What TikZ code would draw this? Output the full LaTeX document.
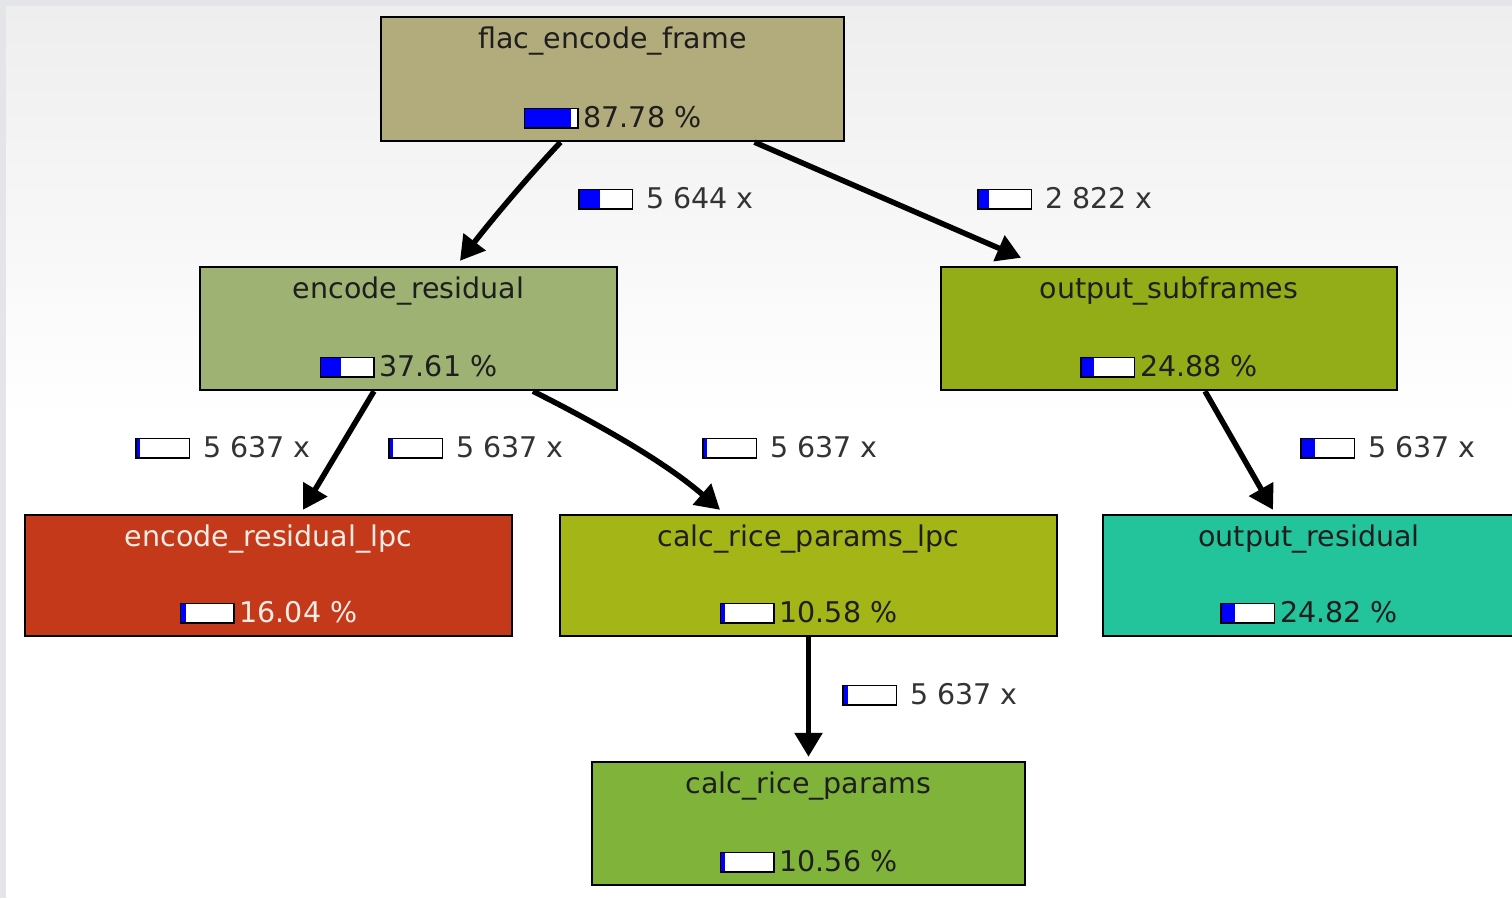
\documentclass[tikz,border=0pt]{standalone}
\usepackage{fontspec}
\setmainfont{DejaVu Sans}
\usetikzlibrary{arrows.meta,calc}
\definecolor{bgframe}{HTML}{E3E5E9}
\definecolor{bgtop}{HTML}{EEEEEE}
\definecolor{cflac}{HTML}{B2AB7C}
\definecolor{cer}{HTML}{9DB273}
\definecolor{cos}{HTML}{93AD19}
\definecolor{cerl}{HTML}{C4391A}
\definecolor{ccrpl}{HTML}{A3B517}
\definecolor{cor}{HTML}{23C49B}
\definecolor{ccrp}{HTML}{80B33A}
\definecolor{tdark}{HTML}{1E1E1E}
\definecolor{tlight}{HTML}{F6ECE6}
\definecolor{tlabel}{HTML}{333333}
\newcommand\pbar[1]{{\setlength\fboxsep{0pt}\setlength\fboxrule{1.5pt}\fcolorbox{black}{white}{\makebox[52pt][l]{\color{blue}\rule{#1pt}{18pt}}}}}
\tikzset{
  fbox/.style={rectangle, draw=black, line width=2.4pt, inner sep=0pt},
  ftext/.style={inner sep=0pt, font=\fontsize{28.5}{32}\selectfont},
  elabel/.style={inner sep=0pt, anchor=base west, text=tlabel, font=\fontsize{28.5}{32}\selectfont},
  edge/.style={draw=black, line width=5.5pt, -{Triangle[length=24pt,width=27pt]}},
}
\newcommand\fnode[8]{%
  \node[fbox, fill=#5, minimum width=#3pt, minimum height=#4pt] (#1) at (#2) {};
  \node[ftext, anchor=base, text=#6] (#1-t) at ($(#1.north)+(0,33)$) {#7};
  \node[ftext, anchor=base, text=#6] (#1-p) at ($(#1.south)+(0,-15)$) {#8};
}
\begin{document}
\begin{tikzpicture}[x=1pt,y=-1pt]
\useasboundingbox (0,0) rectangle (1512,898);
\clip (0,0) rectangle (1512,898);
% background
\fill[bgframe] (0,0) rectangle (1512,898);
\shade[top color=bgtop, bottom color=white] (6,6) rectangle (1512,420);
\fill[white] (6,420) rectangle (1512,898);
% nodes
\fnode{flac}{612.5,79}{463}{124}{cflac}{tdark}{flac\_encode\_frame}{\pbar{46}\hspace{5pt}87.78 \%}
\fnode{er}{408.5,328.5}{417}{123}{cer}{tdark}{encode\_residual}{\pbar{20}\hspace{5pt}37.61 \%}
\fnode{os}{1169,328.5}{456}{123}{cos}{tdark}{output\_subframes}{\pbar{12}\hspace{5pt}24.88 \%}
\fnode{erl}{268.5,575.5}{487}{121}{cerl}{tlight}{encode\_residual\_lpc}{\pbar{5}\hspace{5pt}16.04 \%}
\fnode{crpl}{808.5,575.5}{497}{121}{ccrpl}{tdark}{calc\_rice\_params\_lpc}{\pbar{4}\hspace{5pt}10.58 \%}
\fnode{or}{1309,575.5}{412}{121}{cor}{tdark}{output\_residual}{\pbar{13}\hspace{5pt}24.82 \%}
\fnode{crp}{808.5,823.5}{433}{123}{ccrp}{tdark}{calc\_rice\_params}{\pbar{4}\hspace{5pt}10.56 \%}
% edges
\draw[edge] ([xshift=-52pt]flac.south) .. controls (525,180) and (490,222) .. ([xshift=51.5pt,yshift=5pt]er.north);
\draw[edge] ([xshift=142pt]flac.south) -- ([xshift=-148pt,yshift=8pt]os.north);
\draw[edge] ([xshift=-34.5pt]er.south) -- ([xshift=34.5pt,yshift=4pt]erl.north);
\draw[edge] ([xshift=124.5pt]er.south) .. controls (600,425) and (665,462) .. ([xshift=-88.5pt,yshift=4pt]crpl.north);
\draw[edge] ([xshift=36pt]os.south) -- ([xshift=-36pt,yshift=4pt]or.north);
\draw[edge] (crpl.south) -- ([yshift=4pt]crp.north);
% edge labels
\node[elabel] (l1) at (578,208) {\pbar{20}\hspace{13pt}5 644 x};
\node[elabel] (l2) at (977,208) {\pbar{10}\hspace{13pt}2 822 x};
\node[elabel] (l3) at (135,457) {\pbar{3}\hspace{13pt}5 637 x};
\node[elabel] (l4) at (388,457) {\pbar{3}\hspace{13pt}5 637 x};
\node[elabel] (l5) at (702,457) {\pbar{3}\hspace{13pt}5 637 x};
\node[elabel] (l6) at (1300,457) {\pbar{13}\hspace{13pt}5 637 x};
\node[elabel] (l7) at (842,704) {\pbar{4}\hspace{13pt}5 637 x};
\end{tikzpicture}
\end{document}
